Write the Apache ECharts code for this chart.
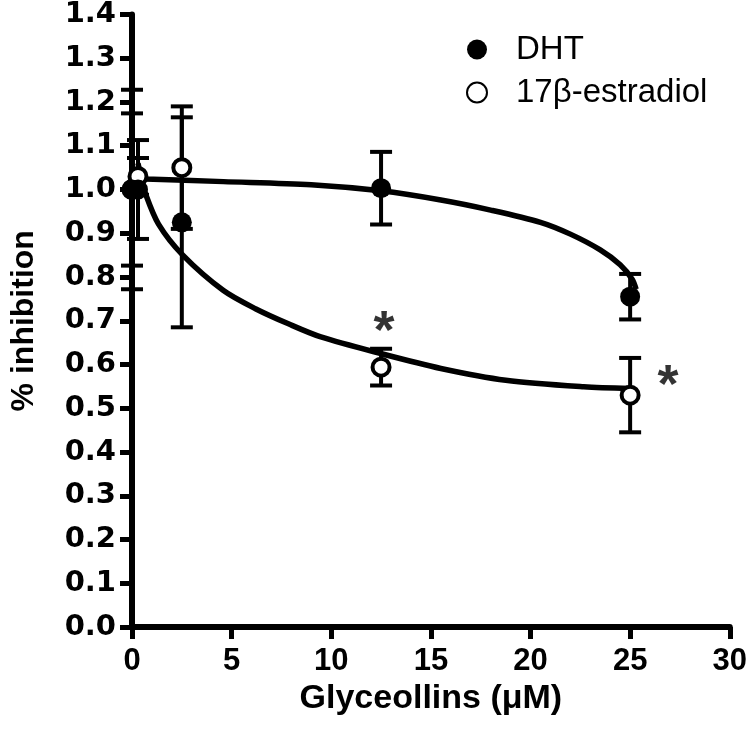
<!DOCTYPE html>
<html>
<head>
<meta charset="utf-8">
<script src="https://cdn.jsdelivr.net/npm/echarts@6/dist/echarts.min.js"></script>
<style>html,body{margin:0;padding:0;background:#fff}#c{width:750px;height:731px}</style>
</head>
<body>
<div id="c"></div>
<script>
// ---- data ----
const seriesNames = ['DHT', '17β-estradiol'];
const dhtX = [0, 0.3, 2.5, 12.5, 25];
const dhtY = [1.0, 1.0, 0.925, 1.003, 0.755];
const dhtErr = [0.174, 0.113, 0.24, 0.083, 0.052];
const estX = [0, 0.3, 2.5, 12.5, 25];
const estY = [1.0, 1.03, 1.05, 0.594, 0.53];
const estErr = [0.228, 0.042, 0.14, 0.042, 0.085];
// fitted curves
const dhtCurveX = [0.3, 0.68, 4.59, 8.99, 12.49, 15.5, 18.0, 20.5, 22.0, 23.5, 24.5, 25.1, 25.3];
const dhtCurveY = [1.025, 1.024, 1.018, 1.011, 0.997, 0.976, 0.953, 0.925, 0.898, 0.862, 0.828, 0.795, 0.772];
const estCurveX = [0.3, 0.45, 0.68, 1.33, 2.55, 4.59, 6.22, 7.85, 9.48, 12.49, 15.5, 18.76, 22.67, 25.0];
const estCurveY = [1.06, 1.03, 0.99, 0.921, 0.85, 0.769, 0.727, 0.693, 0.663, 0.625, 0.591, 0.564, 0.549, 0.545];
// significance markers
const starX = [12.65, 26.9];
const starY = [0.694, 0.571];
const xTicks = {min: 0, max: 30, interval: 5};
const yTicks = {min: 0, max: 1.4, interval: 0.1};

const zip = (a, b) => a.map((v, i) => [v, b[i]]);
const zip3 = (a, b, c) => a.map((v, i) => [v, b[i], c[i]]);

function errRender(params, api) {
  const x = api.value(0), y = api.value(1), e = api.value(2);
  const t = api.coord([x, y + e]);
  const b = api.coord([x, y - e]);
  const hw = 11;
  const st = {stroke: '#000', lineWidth: 4};
  return {type: 'group', children: [
    {type: 'line', shape: {x1: t[0], y1: t[1], x2: b[0], y2: b[1]}, style: st},
    {type: 'line', shape: {x1: t[0] - hw, y1: t[1], x2: t[0] + hw, y2: t[1]}, style: st},
    {type: 'line', shape: {x1: b[0] - hw, y1: b[1], x2: b[0] + hw, y2: b[1]}, style: st}
  ]};
}

const chart = echarts.init(document.getElementById('c'), null, {renderer: 'canvas'});
const axisCommon = {
  axisLine: {show: true, onZero: false, lineStyle: {color: '#000', width: 6}},
  axisTick: {show: true, length: 12, lineStyle: {color: '#000', width: 5}},
  splitLine: {show: false}
};
const sans = 'Liberation Sans, Arial, sans-serif';
chart.setOption({
  animation: false,
  backgroundColor: '#fff',
  grid: {left: 116, right: 19, top: 13, bottom: 104, containLabel: false},
  legend: {
    orient: 'vertical', left: 461, top: 28, itemGap: 10,
    itemWidth: 20, itemHeight: 20,
    data: [{name: seriesNames[0], icon: 'circle'}, {name: seriesNames[1], icon: 'circle'}],
    textStyle: {fontFamily: sans, fontSize: 33, color: '#000', padding: [0, 0, 0, 24]}
  },
  xAxis: Object.assign({
    type: 'value', min: xTicks.min, max: xTicks.max, interval: xTicks.interval,
    name: 'Glyceollins (μM)', nameLocation: 'middle', nameGap: 50,
    nameTextStyle: {fontFamily: sans, fontWeight: 'bold', fontSize: 34, color: '#000'},
    axisLabel: {margin: 19, color: '#000', fontFamily: sans, fontWeight: 'bold', fontSize: 31}
  }, axisCommon),
  yAxis: Object.assign({
    type: 'value', min: yTicks.min, max: yTicks.max, interval: yTicks.interval,
    name: '% inhibition', nameLocation: 'middle', nameGap: 92,
    nameTextStyle: {fontFamily: sans, fontWeight: 'bold', fontSize: 32, color: '#000'},
    axisLabel: {margin: 16, color: '#000', fontFamily: 'DejaVu Sans, sans-serif', fontWeight: 'bold', fontSize: 29,
      formatter: v => v.toFixed(1)}
  }, axisCommon),
  series: [
    {type: 'line', name: 'dhtFit', data: zip(dhtCurveX, dhtCurveY), showSymbol: false, smooth: 0.3,
     lineStyle: {color: '#000', width: 5.5}, z: 2, silent: true, clip: false},
    {type: 'line', name: 'estFit', data: zip(estCurveX, estCurveY), showSymbol: false, smooth: 0.3,
     lineStyle: {color: '#000', width: 5.5}, z: 2, silent: true, clip: false},
    {type: 'custom', name: 'estErr', renderItem: errRender, data: zip3(estX, estY, estErr),
     encode: {x: 0, y: 1}, z: 3, clip: false},
    {type: 'custom', name: 'dhtErr', renderItem: errRender, data: zip3(dhtX, dhtY, dhtErr),
     encode: {x: 0, y: 1}, z: 3, clip: false},
    {type: 'scatter', name: seriesNames[1], data: zip(estX, estY), symbol: 'circle', symbolSize: 17,
     itemStyle: {color: '#fff', borderColor: '#000', borderWidth: 4, opacity: 1}, z: 4, clip: false},
    {type: 'scatter', name: seriesNames[0], data: zip(dhtX, dhtY), symbol: 'circle', symbolSize: 20,
     itemStyle: {color: '#000', opacity: 1}, z: 5, clip: false},
    {type: 'scatter', name: 'stars', data: zip(starX, starY), symbolSize: 0, z: 6, clip: false,
     label: {show: true, position: 'inside', formatter: '*', color: '#000',
       fontFamily: sans, fontWeight: 'bold', fontSize: 54, offset: [0, 10]}}
  ]
});
</script>
</body>
</html>
